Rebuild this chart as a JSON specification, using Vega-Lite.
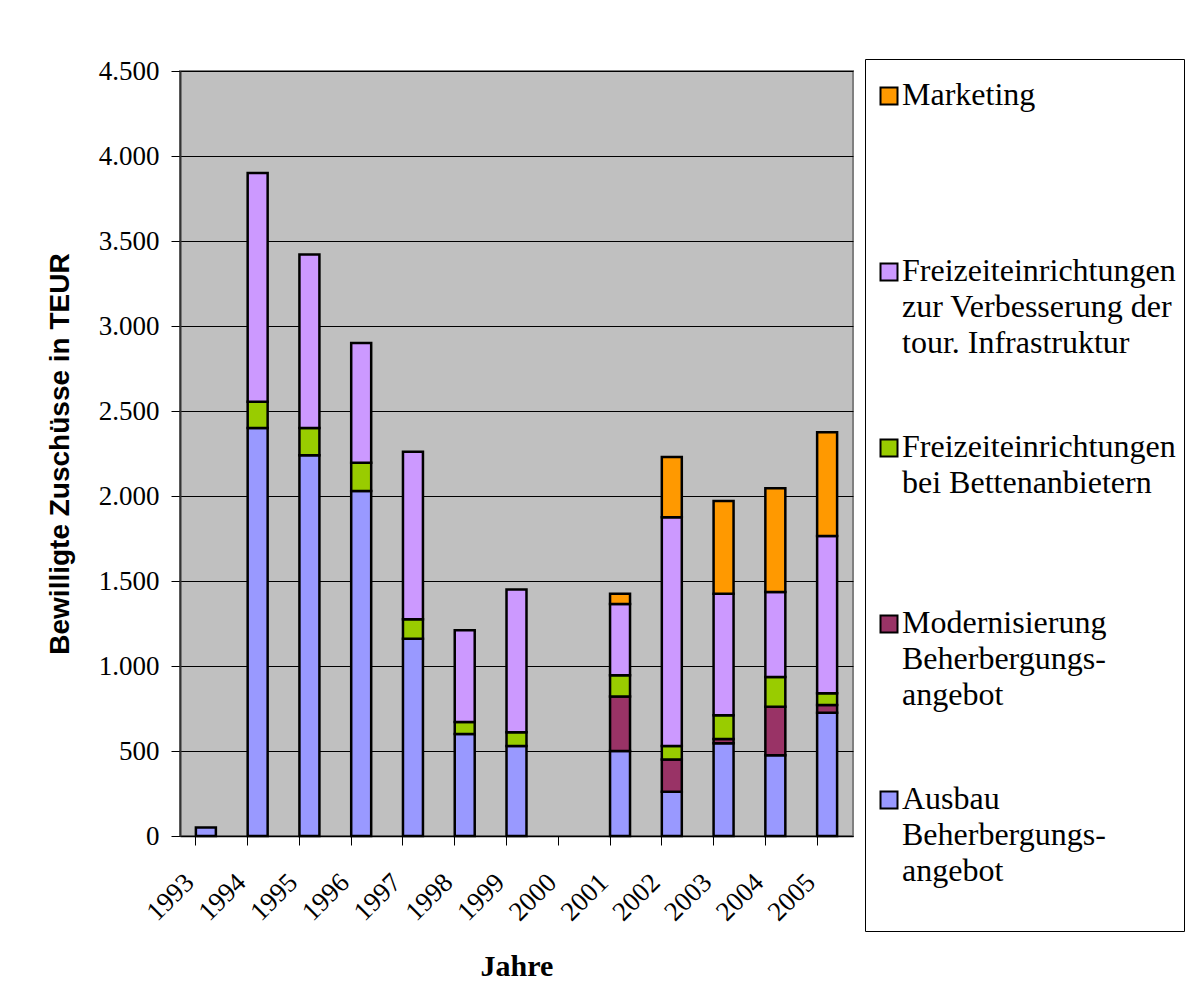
{
  "$schema": "https://vega.github.io/schema/vega-lite/v6.json",
  "width": 673,
  "height": 765,
  "autosize": {"type": "none"},
  "padding": {"left": 180, "top": 71, "right": 346, "bottom": 167},
  "background": "white",
  "config": {
    "view": {"fill": "#C0C0C0", "stroke": "#808080", "strokeWidth": 2}
  },
  "data": {
    "values": [
      {"Jahr": "1993", "Kategorie": "Ausbau|Beherbergungs-|angebot", "Wert": 50},
      {"Jahr": "1994", "Kategorie": "Ausbau|Beherbergungs-|angebot", "Wert": 2400},
      {"Jahr": "1994", "Kategorie": "Freizeiteinrichtungen|bei Bettenanbietern", "Wert": 155},
      {"Jahr": "1994", "Kategorie": "Freizeiteinrichtungen|zur Verbesserung der|tour. Infrastruktur", "Wert": 1345},
      {"Jahr": "1995", "Kategorie": "Ausbau|Beherbergungs-|angebot", "Wert": 2240},
      {"Jahr": "1995", "Kategorie": "Freizeiteinrichtungen|bei Bettenanbietern", "Wert": 160},
      {"Jahr": "1995", "Kategorie": "Freizeiteinrichtungen|zur Verbesserung der|tour. Infrastruktur", "Wert": 1020},
      {"Jahr": "1996", "Kategorie": "Ausbau|Beherbergungs-|angebot", "Wert": 2030},
      {"Jahr": "1996", "Kategorie": "Freizeiteinrichtungen|bei Bettenanbietern", "Wert": 165},
      {"Jahr": "1996", "Kategorie": "Freizeiteinrichtungen|zur Verbesserung der|tour. Infrastruktur", "Wert": 705},
      {"Jahr": "1997", "Kategorie": "Ausbau|Beherbergungs-|angebot", "Wert": 1160},
      {"Jahr": "1997", "Kategorie": "Freizeiteinrichtungen|bei Bettenanbietern", "Wert": 115},
      {"Jahr": "1997", "Kategorie": "Freizeiteinrichtungen|zur Verbesserung der|tour. Infrastruktur", "Wert": 985},
      {"Jahr": "1998", "Kategorie": "Ausbau|Beherbergungs-|angebot", "Wert": 600},
      {"Jahr": "1998", "Kategorie": "Freizeiteinrichtungen|bei Bettenanbietern", "Wert": 70},
      {"Jahr": "1998", "Kategorie": "Freizeiteinrichtungen|zur Verbesserung der|tour. Infrastruktur", "Wert": 540},
      {"Jahr": "1999", "Kategorie": "Ausbau|Beherbergungs-|angebot", "Wert": 530},
      {"Jahr": "1999", "Kategorie": "Freizeiteinrichtungen|bei Bettenanbietern", "Wert": 80},
      {"Jahr": "1999", "Kategorie": "Freizeiteinrichtungen|zur Verbesserung der|tour. Infrastruktur", "Wert": 840},
      {"Jahr": "2001", "Kategorie": "Ausbau|Beherbergungs-|angebot", "Wert": 500},
      {"Jahr": "2001", "Kategorie": "Modernisierung|Beherbergungs-|angebot", "Wert": 320},
      {"Jahr": "2001", "Kategorie": "Freizeiteinrichtungen|bei Bettenanbietern", "Wert": 125},
      {"Jahr": "2001", "Kategorie": "Freizeiteinrichtungen|zur Verbesserung der|tour. Infrastruktur", "Wert": 420},
      {"Jahr": "2001", "Kategorie": "Marketing", "Wert": 60},
      {"Jahr": "2002", "Kategorie": "Ausbau|Beherbergungs-|angebot", "Wert": 260},
      {"Jahr": "2002", "Kategorie": "Modernisierung|Beherbergungs-|angebot", "Wert": 190},
      {"Jahr": "2002", "Kategorie": "Freizeiteinrichtungen|bei Bettenanbietern", "Wert": 80},
      {"Jahr": "2002", "Kategorie": "Freizeiteinrichtungen|zur Verbesserung der|tour. Infrastruktur", "Wert": 1345},
      {"Jahr": "2002", "Kategorie": "Marketing", "Wert": 355},
      {"Jahr": "2003", "Kategorie": "Ausbau|Beherbergungs-|angebot", "Wert": 545},
      {"Jahr": "2003", "Kategorie": "Modernisierung|Beherbergungs-|angebot", "Wert": 25},
      {"Jahr": "2003", "Kategorie": "Freizeiteinrichtungen|bei Bettenanbietern", "Wert": 140},
      {"Jahr": "2003", "Kategorie": "Freizeiteinrichtungen|zur Verbesserung der|tour. Infrastruktur", "Wert": 715},
      {"Jahr": "2003", "Kategorie": "Marketing", "Wert": 545},
      {"Jahr": "2004", "Kategorie": "Ausbau|Beherbergungs-|angebot", "Wert": 475},
      {"Jahr": "2004", "Kategorie": "Modernisierung|Beherbergungs-|angebot", "Wert": 285},
      {"Jahr": "2004", "Kategorie": "Freizeiteinrichtungen|bei Bettenanbietern", "Wert": 175},
      {"Jahr": "2004", "Kategorie": "Freizeiteinrichtungen|zur Verbesserung der|tour. Infrastruktur", "Wert": 500},
      {"Jahr": "2004", "Kategorie": "Marketing", "Wert": 610},
      {"Jahr": "2005", "Kategorie": "Ausbau|Beherbergungs-|angebot", "Wert": 725},
      {"Jahr": "2005", "Kategorie": "Modernisierung|Beherbergungs-|angebot", "Wert": 45},
      {"Jahr": "2005", "Kategorie": "Freizeiteinrichtungen|bei Bettenanbietern", "Wert": 70},
      {"Jahr": "2005", "Kategorie": "Freizeiteinrichtungen|zur Verbesserung der|tour. Infrastruktur", "Wert": 925},
      {"Jahr": "2005", "Kategorie": "Marketing", "Wert": 610}
    ]
  },
  "transform": [
    {"calculate": "indexof(['Ausbau|Beherbergungs-|angebot', 'Modernisierung|Beherbergungs-|angebot', 'Freizeiteinrichtungen|bei Bettenanbietern', 'Freizeiteinrichtungen|zur Verbesserung der|tour. Infrastruktur', 'Marketing'], datum.Kategorie)", "as": "Reihenfolge"}
  ],
  "mark": {"type": "bar", "stroke": "black", "strokeWidth": 2.5, "opacity": 1},
  "encoding": {
    "x": {
      "field": "Jahr",
      "type": "ordinal",
      "scale": {
        "domain": ["1993", "1994", "1995", "1996", "1997", "1998", "1999", "2000", "2001", "2002", "2003", "2004", "2005"],
        "paddingInner": 0.614,
        "paddingOuter": 0.307
      },
      "axis": {
        "title": "Jahre",
        "titleFont": "Liberation Serif",
        "titleFontSize": 30,
        "titleFontWeight": "bold",
        "titleColor": "black",
        "titlePadding": 26,
        "labelFont": "Liberation Serif",
        "labelFontSize": 27,
        "labelColor": "black",
        "labelAngle": -45,
        "labelAlign": "right",
        "labelBaseline": "middle",
        "bandPosition": 0,
        "labelOffset": -16,
        "labelPadding": 33,
        "tickSize": 9,
        "tickColor": "black",
        "tickWidth": 1,
        "domainColor": "black",
        "domainWidth": 1.5,
        "grid": false
      }
    },
    "y": {
      "field": "Wert",
      "type": "quantitative",
      "stack": "zero",
      "scale": {"domain": [0, 4500], "nice": false},
      "axis": {
        "title": "Bewilligte Zuschüsse in TEUR",
        "titleFont": "Liberation Sans",
        "titleFontSize": 28,
        "titleFontWeight": "bold",
        "titleColor": "black",
        "titlePadding": 24,
        "values": [0, 500, 1000, 1500, 2000, 2500, 3000, 3500, 4000, 4500],
        "labelExpr": "replace(format(datum.value, ','), ',', '.')",
        "labelFont": "Liberation Serif",
        "labelFontSize": 27,
        "labelColor": "black",
        "labelPadding": 12,
        "tickSize": 9,
        "tickColor": "black",
        "domainColor": "#333333",
        "domainWidth": 2,
        "grid": true,
        "gridColor": "black",
        "gridWidth": 1,
        "gridOpacity": 1
      }
    },
    "color": {
      "field": "Kategorie",
      "type": "nominal",
      "scale": {
        "domain": ["Marketing", "Freizeiteinrichtungen|zur Verbesserung der|tour. Infrastruktur", "Freizeiteinrichtungen|bei Bettenanbietern", "Modernisierung|Beherbergungs-|angebot", "Ausbau|Beherbergungs-|angebot"],
        "range": ["#FF9900", "#CC99FF", "#99CC00", "#993366", "#9999FF"]
      },
      "legend": {
        "title": " ",
        "titleFontSize": 13,
        "titlePadding": 0,
        "orient": "none",
        "legendX": 685,
        "legendY": -12,
        "labelFont": "Liberation Serif",
        "labelFontSize": 32,
        "labelColor": "black",
        "labelLimit": 400,
        "labelOffset": -3,
        "labelBaseline": "top",
        "labelExpr": "slice(split(datum.label + '| | | ', '|'), 0, 4)",
        "symbolType": "square",
        "symbolSize": 289,
        "symbolStrokeColor": "black",
        "symbolStrokeWidth": 2,
        "symbolOpacity": 1,
        "strokeColor": "black",
        "fillColor": "white",
        "padding": 8,
        "rowPadding": 36,
        "encode": {"labels": {"update": {"lineHeight": {"value": 36}, "dy": {"value": -16}}}}
      }
    },
    "order": {"field": "Reihenfolge", "type": "quantitative", "sort": "ascending"}
  }
}
